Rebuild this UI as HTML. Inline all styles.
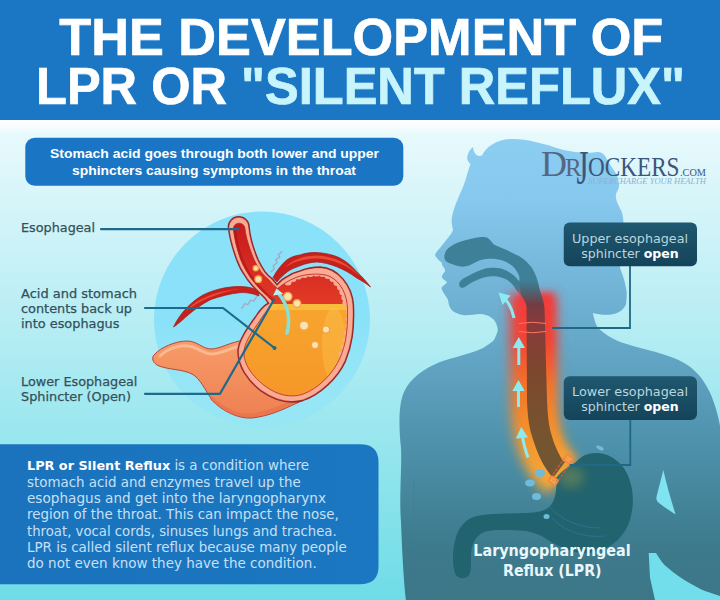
<!DOCTYPE html>
<html lang="en"><head><meta charset="utf-8"><title>The Development of LPR or Silent Reflux</title>
<style>
html,body{margin:0;padding:0;background:#fff}
body{width:720px;height:600px;overflow:hidden}
svg{display:block}
.t{font-family:"Liberation Sans",sans-serif;font-weight:bold}
.d{font-family:"DejaVu Sans","Liberation Sans",sans-serif}
.s{font-family:"Liberation Serif",serif}
</style></head><body>
<svg width="720" height="600" viewBox="0 0 720 600">
<defs>
<linearGradient id="bg" gradientUnits="userSpaceOnUse" x1="0" y1="120" x2="0" y2="600">
<stop offset="0" stop-color="#ebfafd"/><stop offset="0.5" stop-color="#adebf2"/><stop offset="1" stop-color="#6edce6"/>
</linearGradient>
<linearGradient id="body" x1="0" y1="0" x2="0" y2="1">
<stop offset="0" stop-color="#8ccdf2"/><stop offset="0.132" stop-color="#87c8ee"/><stop offset="0.332" stop-color="#70b3d5"/><stop offset="0.527" stop-color="#5d9fbd"/><stop offset="0.646" stop-color="#4f93ad"/><stop offset="0.89" stop-color="#3c7a8c"/><stop offset="1" stop-color="#3c7788"/>
</linearGradient>
<linearGradient id="circ" x1="0" y1="0" x2="0" y2="1">
<stop offset="0" stop-color="#8ae2fa"/><stop offset="0.5" stop-color="#87e1f9" stop-opacity="0.950"/><stop offset="1" stop-color="#8fe4fa" stop-opacity="0.400"/>
</linearGradient>
<linearGradient id="box2" x1="0" y1="0" x2="1" y2="0">
<stop offset="0" stop-color="#1a73bc"/><stop offset="1" stop-color="#1b77c1"/>
</linearGradient>
<linearGradient id="call" x1="0" y1="0" x2="0" y2="1">
<stop offset="0" stop-color="#1f5870"/><stop offset="1" stop-color="#14445a"/>
</linearGradient>
<filter id="blur6" filterUnits="userSpaceOnUse" x="440" y="240" width="240" height="300"><feGaussianBlur stdDeviation="5.500"/></filter>
<filter id="blur3" filterUnits="userSpaceOnUse" x="440" y="240" width="240" height="300"><feGaussianBlur stdDeviation="3"/></filter>
<filter id="blur1"><feGaussianBlur stdDeviation="0.6"/></filter>
<linearGradient id="stom" x1="0" y1="0" x2="0" y2="1">
<stop offset="0" stop-color="#f9aa7c"/><stop offset="0.5" stop-color="#f59462"/><stop offset="1" stop-color="#ee8052"/>
</linearGradient>
<linearGradient id="liq" x1="0" y1="0" x2="0" y2="1">
<stop offset="0.3" stop-color="#f8aa30"/><stop offset="1" stop-color="#f59528"/>
</linearGradient>
<linearGradient id="acid" x1="0" y1="0" x2="0" y2="1">
<stop offset="0" stop-color="#c4161a"/><stop offset="1" stop-color="#e23a28"/>
</linearGradient>
<linearGradient id="lumen" gradientUnits="userSpaceOnUse" x1="228" y1="0" x2="280" y2="0">
<stop offset="0" stop-color="#b8141a"/><stop offset="1" stop-color="#e3402e"/>
</linearGradient>
<linearGradient id="glow" gradientUnits="userSpaceOnUse" x1="0" y1="296" x2="0" y2="475">
<stop offset="0" stop-color="#f43a3c"/><stop offset="0.25" stop-color="#f34434"/><stop offset="0.5" stop-color="#f3742c"/><stop offset="0.75" stop-color="#f4912c"/><stop offset="1" stop-color="#f6a536"/>
</linearGradient>
<linearGradient id="tube" gradientUnits="userSpaceOnUse" x1="0" y1="280" x2="0" y2="480">
<stop offset="0" stop-color="#3d8098"/><stop offset="0.05" stop-color="#4a6878"/><stop offset="0.12" stop-color="#743c44"/><stop offset="0.22" stop-color="#883a3a"/><stop offset="0.45" stop-color="#7d472e"/><stop offset="0.8" stop-color="#76552e"/><stop offset="1" stop-color="#6a5636"/>
</linearGradient>
<radialGradient id="hl" gradientUnits="userSpaceOnUse" cx="470" cy="130" r="330"><stop offset="0" stop-color="#fff" stop-opacity="0.600"/><stop offset="0.5" stop-color="#fff" stop-opacity="0.250"/><stop offset="1" stop-color="#fff" stop-opacity="0"/></radialGradient>
<linearGradient id="wband" x1="0" y1="0" x2="0" y2="1"><stop offset="0" stop-color="#fff" stop-opacity="0.950"/><stop offset="0.4" stop-color="#fff" stop-opacity="0.700"/><stop offset="1" stop-color="#fff" stop-opacity="0"/></linearGradient>
</defs>
<!-- background -->
<rect x="0" y="0" width="720" height="600" fill="url(#bg)"/>
<!-- header -->
<rect x="0" y="0" width="720" height="120" fill="#1b76c4"/>
<rect x="0" y="120" width="720" height="14" fill="url(#wband)"/>
<text class="t" x="59.300" y="54.800" font-size="51" fill="#fff" stroke="#fff" stroke-width="0.700" textLength="604" lengthAdjust="spacingAndGlyphs">THE DEVELOPMENT OF</text>
<text class="t" x="36" y="104.200" font-size="51" fill="#fff" stroke="#fff" stroke-width="0.700" textLength="649" lengthAdjust="spacingAndGlyphs">LPR OR <tspan fill="#c8f4fc" stroke="#c8f4fc">"SILENT REFLUX"</tspan></text>
<!-- SECTION: left top box -->
<rect x="25.300" y="137.800" width="378" height="48" rx="9.500" fill="#1a76c4"/>
<text class="t" x="214.500" y="157.500" font-size="13.2" fill="#fff" text-anchor="middle" textLength="329" lengthAdjust="spacingAndGlyphs">Stomach acid goes through both lower and upper</text>
<text class="t" x="214" y="174.500" font-size="13.2" fill="#fff" text-anchor="middle" textLength="284" lengthAdjust="spacingAndGlyphs">sphincters causing symptoms in the throat</text>
<!-- labels -->
<g class="d" font-size="12.900" fill="#33505b" stroke="#33505b" stroke-width="0.250">
<text x="21" y="232.200" textLength="74" lengthAdjust="spacingAndGlyphs">Esophageal</text>
<text x="21" y="298.200" textLength="116" lengthAdjust="spacingAndGlyphs">Acid and stomach</text>
<text x="21" y="312.900" textLength="111" lengthAdjust="spacingAndGlyphs">contents back up</text>
<text x="21" y="327.600" textLength="98.500" lengthAdjust="spacingAndGlyphs">into esophagus</text>
<text x="21" y="386.100" textLength="116.400" lengthAdjust="spacingAndGlyphs">Lower Esophageal</text>
<text x="21" y="400.800" textLength="110" lengthAdjust="spacingAndGlyphs">Sphincter (Open)</text>
</g>
<!-- SECTION: stomach -->
<circle cx="262" cy="319.500" r="108" fill="url(#circ)"/>
<g id="stomach">
<!-- diaphragm crescents -->
<path d="M173.500,327 C180,313 192,301 203,295 C215,289 228,286.500 240,286.500 C247,286.500 253,288 258,290 L259,296 C252,293 246,292.500 241,292.600 C230,293.500 220,296.500 211,299.400 C200,305 190,313 183,319.500 C179,323 176,325.500 173.500,327 Z" fill="#c8201a" stroke="#9c1a1a" stroke-width="0.700"/>
<path d="M186,311 C195,300 215,290.500 240,289 C225,291 203,298 186,311 Z" fill="#e84a38"/>
<path d="M273,277.500 C277,270 281.500,264.500 286.700,260 C291,257 295.500,255.500 300,255 C305,253 310,252.500 316,252.500 C326,253 333.500,255 340,258 C347,262 352.500,266.500 356.700,271.700 C362,276.500 366.500,281.500 370.500,287 C366,283.500 361.500,280.500 356.700,278 C350,273 343.500,269.500 336.700,266.700 C330,264 323.500,262.500 316.700,262 C311,262.300 305.500,263.500 300,265.800 C296.500,267 293,268.500 290,270 C286,272.500 283,275.500 280,278.300 L277,282 Z" fill="#c8201a" stroke="#9c1a1a" stroke-width="0.700"/>
<path d="M284,268 C293,259 305,255.500 317,255.500 C334,256 349,264 361,277 C348,265.500 333,259 317,258.500 C304,258.500 293,262 284,268 Z" fill="#e84a38"/>
<!-- outer stomach -->
<path d="M268.300,303.300 L300,330 L345.500,361 C338,378 318,394 296,403.500 C284,409 270,416 252,418 C238,419 222,411 212,400 C205,390 200,378 192,374 C182,369 170,370 159,366 C152,363 151,357 155,354 C160,348 175,341 187,341 C197,341 203,349 211,349 C220,349 230,342 245,340 C252,330 262,318 268.300,303.300 Z" fill="url(#stom)" stroke="#b5453c" stroke-width="1"/>
<path d="M160,356 C168,348 180,345 188,346 C198,347 203,354 212,354 C222,354 232,347 244,345" fill="none" stroke="#fbc49c" stroke-width="3" stroke-linecap="round" opacity="0.750"/>
<path d="M212,400 C222,411 238,419 252,418 C270,416 284,409 296,403.500 C318,394 338,378 345,361" fill="none" stroke="#e76a48" stroke-width="4" opacity="0.500" transform="translate(-1,-2.500)"/>
<!-- wall (esophagus + cut stomach wall) -->
<clipPath id="wclip"><path d="M228.300,227 A10.450,10.450 0 0 1 249.200,227 C250,236 254,250 258.300,260 C260.500,264.500 262.500,268 265,271.700 C267,274.500 269,276.500 271.700,278.300 C273.500,280 275,282 277,284.500 C280,281 283,278.500 286.700,276.700 C291,274 295,272 300,270.800 C306,268.500 313,267 320,267 C338,268 352,285 353.500,305 C354.500,330 352,345 345.500,361 C338,378 320,395 303,400.500 C290,404 275,401 261,391 C248,381 237,366 238,350 C239,338 250,325 258,313 C263,306 266.500,304 268.300,303.300 C266.500,300 264,297 261.700,295 C258,292 255,288.500 251.700,285 C248.500,281.500 246,278 243.300,273.300 C241,270 239,266 236.700,260 C233,250 229.500,238 228.300,227 Z"/></clipPath>
<path d="M228.300,227 A10.450,10.450 0 0 1 249.200,227 C250,236 254,250 258.300,260 C260.500,264.500 262.500,268 265,271.700 C267,274.500 269,276.500 271.700,278.300 C273.500,280 275,282 277,284.500 C280,281 283,278.500 286.700,276.700 C291,274 295,272 300,270.800 C306,268.500 313,267 320,267 C338,268 352,285 353.500,305 C354.500,330 352,345 345.500,361 C338,378 320,395 303,400.500 C290,404 275,401 261,391 C248,381 237,366 238,350 C239,338 250,325 258,313 C263,306 266.500,304 268.300,303.300 C266.500,300 264,297 261.700,295 C258,292 255,288.500 251.700,285 C248.500,281.500 246,278 243.300,273.300 C241,270 239,266 236.700,260 C233,250 229.500,238 228.300,227 Z" fill="#f9ab94"/>
<path d="M228.300,227 A10.450,10.450 0 0 1 249.200,227 C250,236 254,250 258.300,260 C260.500,264.500 262.500,268 265,271.700 C267,274.500 269,276.500 271.700,278.300 C273.500,280 275,282 277,284.500 C280,281 283,278.500 286.700,276.700 C291,274 295,272 300,270.800 C306,268.500 313,267 320,267 C338,268 352,285 353.500,305 C354.500,330 352,345 345.500,361 C338,378 320,395 303,400.500 C290,404 275,401 261,391 C248,381 237,366 238,350 C239,338 250,325 258,313 C263,306 266.500,304 268.300,303.300 C266.500,300 264,297 261.700,295 C258,292 255,288.500 251.700,285 C248.500,281.500 246,278 243.300,273.300 C241,270 239,266 236.700,260 C233,250 229.500,238 228.300,227 Z" fill="none" stroke="#ec6450" stroke-width="2.200" clip-path="url(#wclip)"/>
<path d="M228.300,227 A10.450,10.450 0 0 1 249.200,227 C250,236 254,250 258.300,260 C260.500,264.500 262.500,268 265,271.700 C267,274.500 269,276.500 271.700,278.300 C273.500,280 275,282 277,284.500 C280,281 283,278.500 286.700,276.700 C291,274 295,272 300,270.800 C306,268.500 313,267 320,267 C338,268 352,285 353.500,305 C354.500,330 352,345 345.500,361 C338,378 320,395 303,400.500 C290,404 275,401 261,391 C248,381 237,366 238,350 C239,338 250,325 258,313 C263,306 266.500,304 268.300,303.300 C266.500,300 264,297 261.700,295 C258,292 255,288.500 251.700,285 C248.500,281.500 246,278 243.300,273.300 C241,270 239,266 236.700,260 C233,250 229.500,238 228.300,227 Z" fill="none" stroke="#8e2a30" stroke-width="1.300"/>
<!-- lumen + cavity -->
<clipPath id="cav"><path d="M233.300,229 A5.850,5.850 0 0 1 245,229 C245.800,237 250,250 254.200,260 C256.500,264.500 258.500,268 261,271.700 C263,274.500 265.500,277 268,279 C270,281 272,283.500 274,285.500 L277.500,288.500 C282,285 288,280.500 296,277.500 C304,274 322,272.500 330,276.500 C341,282 347,295 347.500,308 C348,330 346,344 340,358 C333,374 318,389 302,394.500 C290,398 277,395 265,386 C253,377 243,364 244,351 C245,340 255,328 263,316 C268,309 271,305 273,302 C270,298.500 267.500,296 265,294 C261.500,291 258.500,287.500 255.500,284 C252.500,280.500 250,277 247.500,273 C245,269 243,265 240.800,260 C237.500,251 234.500,240 233.300,229 Z"/></clipPath>
<g clip-path="url(#cav)">
<rect x="225" y="215" width="135" height="195" fill="url(#liq)"/>
<rect x="225" y="215" width="135" height="89" fill="url(#acid)"/>
<rect x="225" y="304" width="135" height="6" fill="#f8bb3c"/>
<ellipse cx="334" cy="345" rx="12" ry="38" fill="#fbd05a" opacity="0.300"/>
<path d="M233.300,229 C234.500,240 237.500,251 240.800,260 C243,265 245,269 247.500,273 C252,281 260,290 273,302" fill="none" stroke="#a90f18" stroke-width="5" opacity="0.550"/>
<g fill="#f9ab94"><circle cx="288" cy="282" r="3.600"/><circle cx="293" cy="278.5" r="3.600"/><circle cx="298.5" cy="276" r="3.600"/><circle cx="304.5" cy="274.5" r="3.600"/><circle cx="310.5" cy="273.5" r="3.600"/><circle cx="316.5" cy="273" r="3.600"/><circle cx="322.5" cy="273.5" r="3.600"/><circle cx="328" cy="275.5" r="3.600"/><circle cx="333" cy="278.5" r="3.600"/><circle cx="337" cy="282.5" r="3.600"/><circle cx="340.5" cy="287" r="3.600"/><circle cx="343" cy="292" r="3.600"/><circle cx="345" cy="297.5" r="3.600"/><circle cx="346" cy="303" r="3.600"/><circle cx="348.0" cy="312" r="2.200"/><circle cx="347.8" cy="319" r="2.200"/><circle cx="347.2" cy="326" r="2.200"/><circle cx="346.1" cy="333" r="2.200"/><circle cx="344.7" cy="340" r="2.200"/><circle cx="342.9" cy="347" r="2.200"/><circle cx="340.6" cy="354" r="2.200"/></g>
</g>
<path d="M233.300,229 A5.850,5.850 0 0 1 245,229 C245.800,237 250,250 254.200,260 C256.500,264.500 258.500,268 261,271.700 C263,274.500 265.500,277 268,279 C270,281 272,283.500 274,285.500 L277.500,288.500 C282,285 288,280.500 296,277.500 C304,274 322,272.500 330,276.500 C341,282 347,295 347.500,308 C348,330 346,344 340,358 C333,374 318,389 302,394.500 C290,398 277,395 265,386 C253,377 243,364 244,351 C245,340 255,328 263,316 C268,309 271,305 273,302 C270,298.500 267.500,296 265,294 C261.500,291 258.500,287.500 255.500,284 C252.500,280.500 250,277 247.500,273 C245,269 243,265 240.800,260 C237.500,251 234.500,240 233.300,229 Z" fill="none" stroke="#b52a25" stroke-width="0.800"/>
<!-- bubbles -->
<g fill="#fbe2b0" stroke="#f3a445" stroke-width="1.300">
<circle cx="255.800" cy="268.300" r="2.600"/><circle cx="258.300" cy="279.200" r="3.400"/>
<circle cx="287.800" cy="296.600" r="4.200"/><circle cx="297" cy="303.500" r="3.800"/>
<circle cx="304" cy="325.600" r="4.600"/><circle cx="326" cy="329.500" r="3.600"/><circle cx="315" cy="345" r="3.600"/>
</g>
<!-- cyan arrow -->
<path d="M287,333 C291,318 287,304 279,294" fill="none" stroke="#84e2da" stroke-width="3.600" stroke-linecap="round"/>
<path d="M273,295.500 L276.500,288.500 L283.500,294 Z" fill="#b4f0ec"/>
<!-- squiggles -->
<path d="M281.700,251.700 l-3.500,3 l1.500,2.500 l-4,2.500 l1.500,3 l-4,3 l1,3 l-3,3" fill="none" stroke="#a3aac2" stroke-width="1.400" stroke-linecap="round" stroke-linejoin="round"/>
<path d="M256.700,296.700 l-3,4.500 l-3,-1 l-3,4.500 l-3,-1 l-3,4.600" fill="none" stroke="#a3aac2" stroke-width="1.400" stroke-linecap="round" stroke-linejoin="round"/>
</g>
<!-- leader lines -->
<g fill="none" stroke="#1d6a8c" stroke-width="2.200" stroke-linecap="round" stroke-linejoin="round">
<path d="M101,229.200 L238.500,229.200"/>
<path d="M145,308 L223,308 L274.500,348"/>
<path d="M145,393.800 L220,393.800 L274,299.500"/>
</g>
<circle cx="274.500" cy="348" r="2" fill="#1d6a8c"/>
<!-- SECTION: silhouette -->
<g id="sil">
<path d="M482,155.500 C486,147 497,139 512,139 C528,139 545,144 560,149 C575,153 590,153.500 597,152 C603,151.500 605.500,156 608.300,161.700 C611,166 614,170 615.800,173.300 C618,178 619.500,183 619,186.700 C618.500,190 616,192.500 615.800,195 C615.800,198 616.500,201 617.500,203.300 C619,206.500 620.500,209 621.700,211.700 C622.500,214 623,217 623.300,220 C624,232 623,250 620,268 C622,273 625,280 626.700,292 C626.800,297 626.500,301 625.800,304.700 C623,311 616,314.600 608.300,314.800 C602,315 597,314 592.800,313 C594,318 595,323 597.300,326.700 C600,330 604,333 608.300,335.900 C615,340 621,342.500 626.700,344 C640,348 648,350 654,351.500 C664,354.500 672,357 678,359.700 C684,362.500 689,365.500 692.700,369 C697,373 701,377 703.800,381.700 C708,388 711,394 713,400 C716,408 718.500,417 720,426 L720,600 L406,600 C404,585 402,550 401,522 C399,500 402,465 401,448 C399,430 398,405 404,392 C410,378 425,368 440,362 C450,358.500 457,357 463,355 C473,352 480,350 485,346.700 C490,343.500 494,341 495,338 C496.500,334 498.500,331 497.500,328 C496.500,323 494.500,319.500 491.700,318 C488,315 484,314 480,314 C474,314 468,316 463,315 C458,314 454,312.500 451.700,310 C449,307 448.500,303 448,300 C447.500,298 446,297 445,295 C442,291 441,288 442,287 C444,285 447,283 447,282 C445,280 441,278 442,276 C443,273 446,271 445,270 C444,267 441,265 442,263 C440,261 436,258 435,255 C436,252 438,250 440,248 C446,240 452,234 453,230 C452,225 451,221 452,217 C453,210 458,198 463,187 C466,180 468,170 470.500,164 C467,161 466.500,157 468,154 C469,151 471,148.500 473,147 C473.500,152 476,157.500 482,155.500 Z" fill="url(#body)"/>
<!-- arm gaps -->
<path d="M663.300,470 C661,480 658,490 656.300,498 Q656.300,501.500 659,503 C664,507 670,511 675.600,514.500 C671,500 667,486 663.300,470 Z" fill="#80e3f0"/>
<path d="M648.700,553 L656,553 C660,560 664,565 667.500,567.500 C675,574 681,578 686,581 C693,585 700,589 705,591 L720,596 L720,600 L655,600 L650,577.500 Z" fill="#72deec"/>
<path d="M414,480 C413,520 415,560 418,600" fill="none" stroke="#3c7d99" stroke-width="1.500" opacity="0.250"/>
<!-- nasal + oral cavity -->
<path d="M459.300,283 C461,279 465,277.500 469.300,275.500 C474,273 479,270.500 484.300,268.800 C489,267.500 493,267.500 497.700,268 C502,268.500 506,270 509.300,272.200 C513,274.500 516,277 517.700,279.700 L520,282 L522,297 L516,289.700 C514.500,287 513,285 511,283 C508.500,280.500 506,279 502.700,278 C499,276.500 495,276 491,276.300 C486,277 481.500,278 477.700,279.700 C473,281.500 469,284 466,286.300 C463.500,288 461,288.500 459.800,286.500 C459,285.500 459,284 459.300,283 Z" fill="#3d8098"/>
<!-- glow -->
<g filter="url(#blur6)" opacity="0.900">
<path d="M533,294 L534,400 C534,440 546,463 563,477" fill="none" stroke="url(#glow)" stroke-width="48" stroke-linecap="butt"/>
</g>
<g filter="url(#blur3)">
<path d="M535,294 L536,400 C536,440 547.500,460.500 562,473" fill="none" stroke="url(#glow)" stroke-width="35" stroke-linecap="butt"/>
</g>
<ellipse cx="552" cy="462" rx="20" ry="16" fill="#f3a03a" opacity="0.400" filter="url(#blur6)"/>
<!-- nasal cavity + pharynx + tube -->
<path d="M444.300,256.300 C445,251 448,248 451,246.300 C455,243.500 460,241.500 464.300,240.500 C470,239 475,237.500 479.300,237.200 C483,237 486,237 487.700,238 C490.500,239.500 492,243 494.300,244.700 C498,246.500 502,248 506,249.700 C511,252 515,254 519.300,256.300 C523,258.500 526.500,261.500 529.300,264.700 C532.500,268 534.500,272 536,276.300 C537.500,280 538.500,284 539.300,288 C540,292 543.500,298 544.500,308 L547,400 C547.500,410 548,417 549,424 C551,436 556,450 563,461 L565,462 L553,478 C548,472 544,466 541,460 C537,452 534,443 531,433 C529,425 527.500,415 527,400 L526.500,306 C525,300 522,297 521,294.700 C520,290 519.500,285 519.300,281.300 C519.500,279 519.500,277.500 519.300,276.300 C517.500,272 515.500,269 512.700,266.300 C509.500,263.500 506,261.500 502.700,260.500 C498,259 493.500,258.600 489.300,258.800 C485.500,259 482.500,259.500 479.300,260.500 C475.500,262 472.500,264 469.300,265.500 C465,267 460,267 456,265.500 C452,264.500 448,263 446,261.300 C444.800,260 444.200,258 444.300,256.300 Z" fill="url(#tube)"/>
<!-- UES rings -->
<path d="M519,323.500 Q533,321 546,323.500 M519,331.500 Q533,334 546,331.500" fill="none" stroke="#ff7468" stroke-width="1"/>
<!-- stomach dark -->
<path d="M556,478 C562,470 570,466 576,462 C582,455 590,452.500 598,453 C612,454 624,464 629,478 C634,492 634,506 630,520 C625,536 612,548 596,552 C580,556 560,548 548,540 C540,534 530,531 520,530.500 C505,530 492,529 484,532 C475,536 471,545 471,556 C471,564 471.500,570 469.500,574.500 C466.500,579.500 459,579.500 456,575 C452,568 452.500,552 454.500,543 C457,531 462,522 472,517.500 C485,512.500 505,514 523,513 C535,513 545,512 551,505 C556,499 557,488 556,478 Z" fill="#21636e"/>
<!-- LES marker -->
<ellipse cx="571" cy="477" rx="13" ry="11" fill="#c9b03a" opacity="0.300" filter="url(#blur6)"/>
<g transform="rotate(-55 561 470)" fill="none"><rect x="548" y="466" width="26" height="8" stroke="#e8503a" stroke-width="1.100" stroke-dasharray="3 1.500"/><rect x="545" y="466" width="6" height="8" rx="1" stroke="#f5873a" stroke-width="1.600" fill="#f7b070" fill-opacity="0.500"/><rect x="571" y="466" width="6" height="8" rx="1" stroke="#f5873a" stroke-width="1.600" fill="#f7b070" fill-opacity="0.500"/></g>
<!-- dots -->
<g fill="#6fbbdc"><ellipse cx="540" cy="473" rx="5" ry="4"/><ellipse cx="530" cy="483" rx="5" ry="3.500"/><ellipse cx="536.500" cy="496.500" rx="4.500" ry="3.500"/><ellipse cx="546.500" cy="516.500" rx="3" ry="2.500"/><ellipse cx="600" cy="448" rx="4" ry="1.800" transform="rotate(25 600 448)"/></g>
<g fill="none" stroke="#3d86b8" stroke-width="1" opacity="0.450"><path d="M548,505 C560,520 580,528 600,528"/><path d="M552,518 C565,532 585,538 605,536"/><path d="M604,450 C615,455 625,462 632,472"/></g>
<!-- arrows -->
<g fill="none" stroke="#8ceaf1" stroke-width="3" stroke-linecap="butt">
<path d="M514,318 C512,309 509,303 505,299"/>
<path d="M518.800,365 L518.800,345"/>
<path d="M518.500,407 L518.500,388"/>
<path d="M528,457.500 C525,449 523,442 522.300,435"/>
</g>
<g fill="#8ceaf1">
<path d="M498.500,292.500 L510.500,295.500 L502.500,305 Z"/>
<path d="M518.800,337 L525,348 L512.600,348 Z"/>
<path d="M518.500,380 L524.700,391 L512.300,391 Z"/>
<path d="M521.300,427 L528,437.500 L515.800,438.500 Z"/>
</g>
</g>
<!-- callouts -->
<g fill="none" stroke="#1f6888" stroke-width="1.800"><path d="M630,266 L630,328 L552,328"/><path d="M630.300,420 L630.300,465 L570,465"/></g>
<rect x="563.750" y="222.500" width="133.250" height="43.750" rx="6" fill="url(#call)"/>
<rect x="563.750" y="376.250" width="133.250" height="43.750" rx="6" fill="url(#call)"/>
<g class="d" font-size="12.700" fill="#bcd6dd" text-anchor="middle">
<text x="630" y="242.500" textLength="116" lengthAdjust="spacingAndGlyphs">Upper esophageal</text>
<text x="630" y="257.500" textLength="97.500" lengthAdjust="spacingAndGlyphs">sphincter <tspan font-weight="bold" fill="#fff">open</tspan></text>
<text x="630" y="395.500" textLength="116" lengthAdjust="spacingAndGlyphs">Lower esophageal</text>
<text x="630" y="410.500" textLength="97.500" lengthAdjust="spacingAndGlyphs">sphincter <tspan font-weight="bold" fill="#fff">open</tspan></text>
</g>
<g class="d" font-size="15" font-weight="bold" fill="#e9f6fb" text-anchor="middle">
<text x="552" y="556" textLength="157.500" lengthAdjust="spacingAndGlyphs">Laryngopharyngeal</text>
<text x="552.300" y="576" textLength="98.500" lengthAdjust="spacingAndGlyphs">Reflux (LPR)</text>
</g>
<!-- logo -->
<g class="s" fill="#3b557c">
<text x="541" y="176" font-size="36" fill="#566684">D</text>
<text x="565" y="176" font-size="25" fill="#566684">R</text>
<text x="576.500" y="183.500" font-size="48" textLength="12" lengthAdjust="spacingAndGlyphs">J</text>
<text x="588" y="176" font-size="28" textLength="91.500" lengthAdjust="spacingAndGlyphs">OCKERS</text>
<text x="680" y="176" font-size="10" textLength="26" lengthAdjust="spacingAndGlyphs">.COM</text>
<text x="588" y="183.500" font-size="7.500" font-style="italic" fill="#8fb0d4" textLength="118" lengthAdjust="spacingAndGlyphs">SUPERCHARGE YOUR HEALTH</text>
</g>
<!-- SECTION: bottom box -->
<path d="M0,444.200 L360,444.200 Q378.500,444.200 378.500,462 L378.500,566.500 Q378.500,584.200 360,584.200 L0,584.200 Z" fill="url(#box2)"/>
<g class="d" font-size="13.400" fill="#c6e0f8">
<text x="27" y="470.4"><tspan font-weight="bold" fill="#fff" font-size="12.800">LPR or Silent Reflux</tspan> is a condition where</text>
<text x="27" y="486.7">stomach acid and enzymes travel up the</text>
<text x="27" y="502.9" textLength="299" lengthAdjust="spacingAndGlyphs">esophagus and get into the laryngopharynx</text>
<text x="27" y="519.2">region of the throat. This can impact the nose,</text>
<text x="27" y="535.5" textLength="309.700" lengthAdjust="spacingAndGlyphs">throat, vocal cords, sinuses lungs and trachea.</text>
<text x="27" y="551.8" textLength="319.700" lengthAdjust="spacingAndGlyphs">LPR is called silent reflux because many people</text>
<text x="27" y="568.0" textLength="289.700" lengthAdjust="spacingAndGlyphs">do not even know they have the condition.</text>
</g>
</svg>
</body></html>
